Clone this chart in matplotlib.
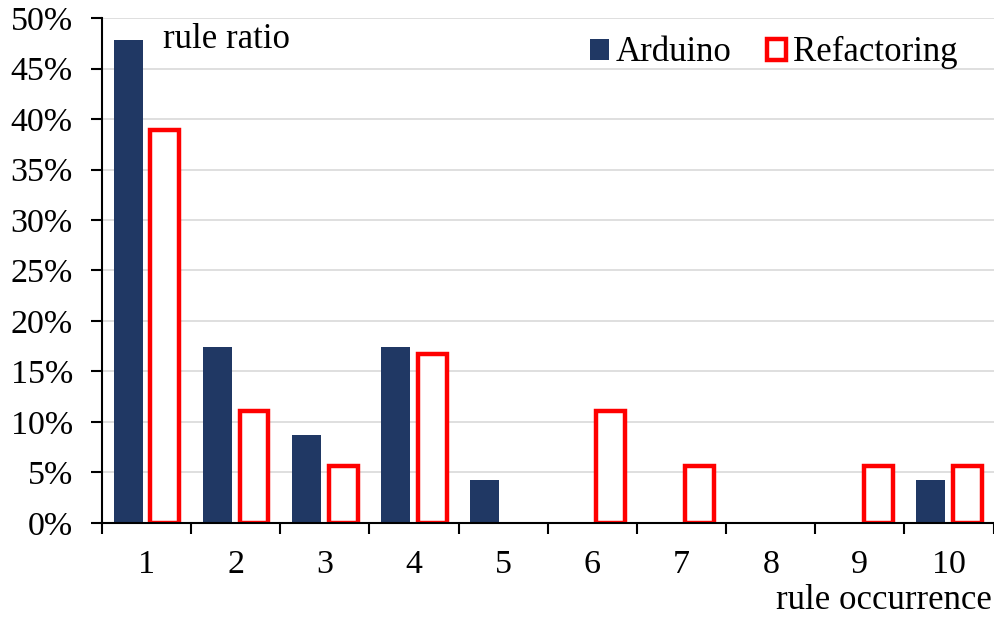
import matplotlib.pyplot as plt
import numpy as np
from matplotlib.ticker import FuncFormatter, MultipleLocator

plt.rcParams['font.family'] = ['Liberation Serif', 'DejaVu Serif']

# rule occurrence categories and ratios (%)
categories = ['1', '2', '3', '4', '5', '6', '7', '8', '9', '10']
arduino = [47.8, 17.4, 8.7, 17.4, 4.3, 0, 0, 0, 0, 4.3]
refactoring = [38.9, 11.1, 5.6, 16.7, 0, 11.1, 5.6, 0, 5.6, 5.6]

x = np.arange(len(categories))
width = 0.325
a = np.array(arduino)
r = np.array(refactoring)

fig = plt.figure(figsize=(9.94, 6.17), dpi=100)
ax = fig.add_axes([0.1026, 0.1524, 0.897, 0.8184])

# skip empty bars so no stray outline shows on the axis
ax.bar(x[a > 0] - 0.205, a[a > 0], width, color='#203864', label='Arduino', zorder=3)
ax.bar(x[r > 0] + 0.205, r[r > 0], width, facecolor='white', edgecolor='#FF0000',
       linewidth=3.2, label='Refactoring', zorder=3)

ax.set_xlim(-0.5, len(categories) - 0.5)
ax.set_ylim(0, 50)
ax.yaxis.set_major_locator(MultipleLocator(5))
ax.yaxis.set_major_formatter(FuncFormatter(lambda v, p: f'{v:.0f}%'))
ax.grid(axis='y', color='#D9D9D9', linewidth=1.2, zorder=0)

# category labels centred, ticks on category boundaries
ax.set_xticks(x)
ax.set_xticklabels(categories)
ax.tick_params(axis='x', length=0, pad=19, labelsize=24.5)
ax.set_xticks(np.arange(len(categories) + 1) - 0.5, minor=True)
ax.tick_params(axis='x', which='minor', length=8, width=1.5, direction='out')
ax.tick_params(axis='y', length=8, width=1.5, direction='out', labelsize=24.5, pad=13)

for s in ['top', 'right']:
    ax.spines[s].set_visible(False)
ax.spines['left'].set_linewidth(1.5)
ax.spines['bottom'].set_linewidth(1.5)
ax.spines['bottom'].set_zorder(4)

ax.text(0.068, 0.99, 'rule ratio', transform=ax.transAxes, fontsize=25,
        ha='left', va='top')
fig.text(0.998, 0.0, 'rule occurrence', fontsize=25, ha='right', va='bottom')

ax.legend(loc='upper right', bbox_to_anchor=(0.9826, 1.005), frameon=False,
          fontsize=25, ncol=2, handlelength=0.55, handleheight=0.55,
          handletextpad=0.2, columnspacing=1.0, borderaxespad=0.2)

fig.savefig('out.png', dpi=100)
